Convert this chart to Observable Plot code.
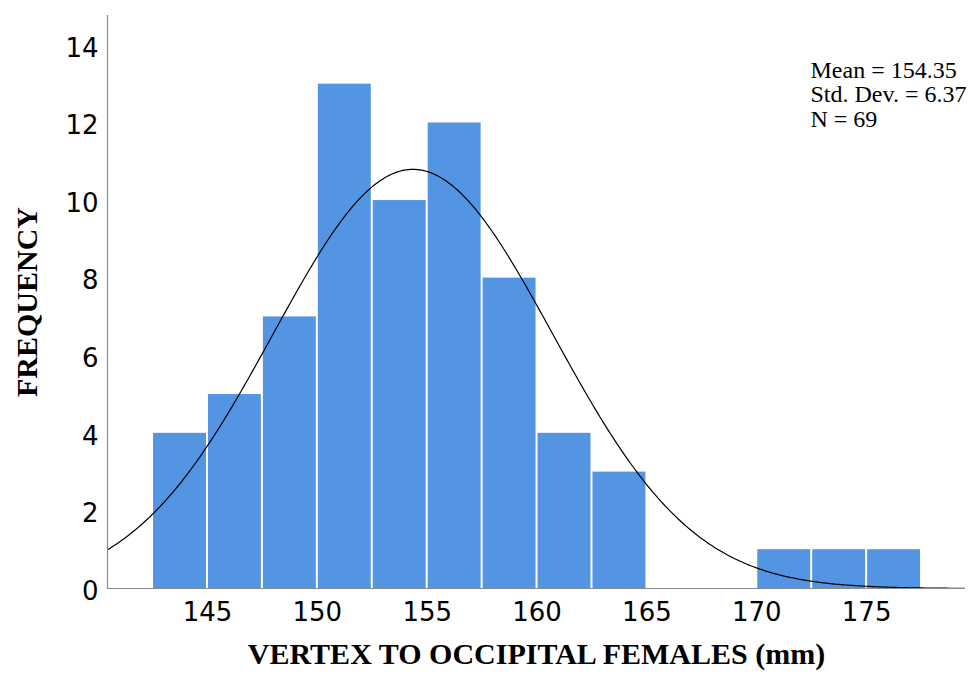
<!DOCTYPE html>
<html>
<head>
<meta charset="utf-8">
<script src="https://cdn.jsdelivr.net/npm/d3@7"></script>
<script src="https://cdn.jsdelivr.net/npm/@observablehq/plot@0.6"></script>
<style>
  html, body { margin: 0; padding: 0; background: #fff; }
  #chart svg { display: block; }
</style>
</head>
<body>
<div id="chart"></div>
<script>
// Histogram bins (mm) and frequencies
const binStarts = [142.5, 145, 147.5, 150, 152.5, 155, 157.5, 160, 162.5, 165, 167.5, 170, 172.5, 175];
const binWidth = 2.5;
const frequencies = [4, 5, 7, 13, 10, 12, 8, 4, 3, 0, 0, 1, 1, 1];
const xTicks = [145, 150, 155, 160, 165, 170, 175];
const yTicks = [0, 2, 4, 6, 8, 10, 12, 14];
const stats = { mean: 154.35, sd: 6.37, n: 69 };
const statLines = ["Mean = 154.35", "Std. Dev. = 6.37", "N = 69"];
const xTitle = "VERTEX TO OCCIPITAL FEMALES (mm)";
const yTitle = "FREQUENCY";
const xDomain = [140.45, 179.5];
const yDomain = [0, 14.77];

const bins = binStarts.map((x1, i) => ({ x1, x2: x1 + binWidth, y: frequencies[i] }))
  .filter(d => d.y > 0);

// Fitted normal curve from the stated mean, SD and N (scaled to bin width)
const curve = d3.range(xDomain[0], xDomain[1] + 0.001, 0.1).map(x => ({
  x,
  y: stats.n * binWidth / (stats.sd * Math.sqrt(2 * Math.PI)) *
     Math.exp(-0.5 * ((x - stats.mean) / stats.sd) ** 2)
}));

const serif = "'Liberation Serif', 'Times New Roman', serif";
const sans = "'DejaVu Sans', sans-serif";

const statMarks = statLines.map((s, i) =>
  Plot.text([s], { text: d => d, frameAnchor: "top-left", dx: 703, dy: 45 + i * 24.5,
    textAnchor: "start", lineAnchor: "top", fontFamily: serif, fontSize: 24 })
);

const chart = Plot.plot({
  width: 975,
  height: 682,
  marginLeft: 107,
  marginRight: 10,
  marginTop: 15,
  marginBottom: 94,
  style: { color: "#000", background: "#fff", overflow: "visible" },
  x: { domain: xDomain },
  y: { domain: yDomain },
  marks: [
    Plot.rectY(bins, { x1: "x1", x2: "x2", y: "y", fill: "#5395e3", insetLeft: 1, insetRight: 1 }),
    Plot.line(curve, { x: "x", y: "y", stroke: "#000", strokeWidth: 1.2 }),
    Plot.ruleX([xDomain[0]], { stroke: "#8a8a8a", strokeWidth: 1.2 }),
    Plot.ruleY([0], { stroke: "#8a8a8a", strokeWidth: 1.2 }),
    Plot.axisX({ ticks: xTicks, tickSize: 0, tickPadding: 14, fontSize: 26, fontFamily: sans, label: null }),
    Plot.axisY({ ticks: yTicks, tickSize: 0, tickPadding: 9, dy: 3, fontSize: 26, fontFamily: sans, label: null }),
    Plot.text([xTitle], { text: d => d, frameAnchor: "bottom", dy: 75, fontFamily: serif, fontWeight: "bold", fontSize: 30, lineAnchor: "bottom" }),
    Plot.text([yTitle], { text: d => d, frameAnchor: "left", dx: -80, rotate: -90, textAnchor: "middle", lineAnchor: "middle", fontFamily: serif, fontWeight: "bold", fontSize: 30 }),
    ...statMarks
  ]
});

document.getElementById("chart").appendChild(chart);
</script>
</body>
</html>
